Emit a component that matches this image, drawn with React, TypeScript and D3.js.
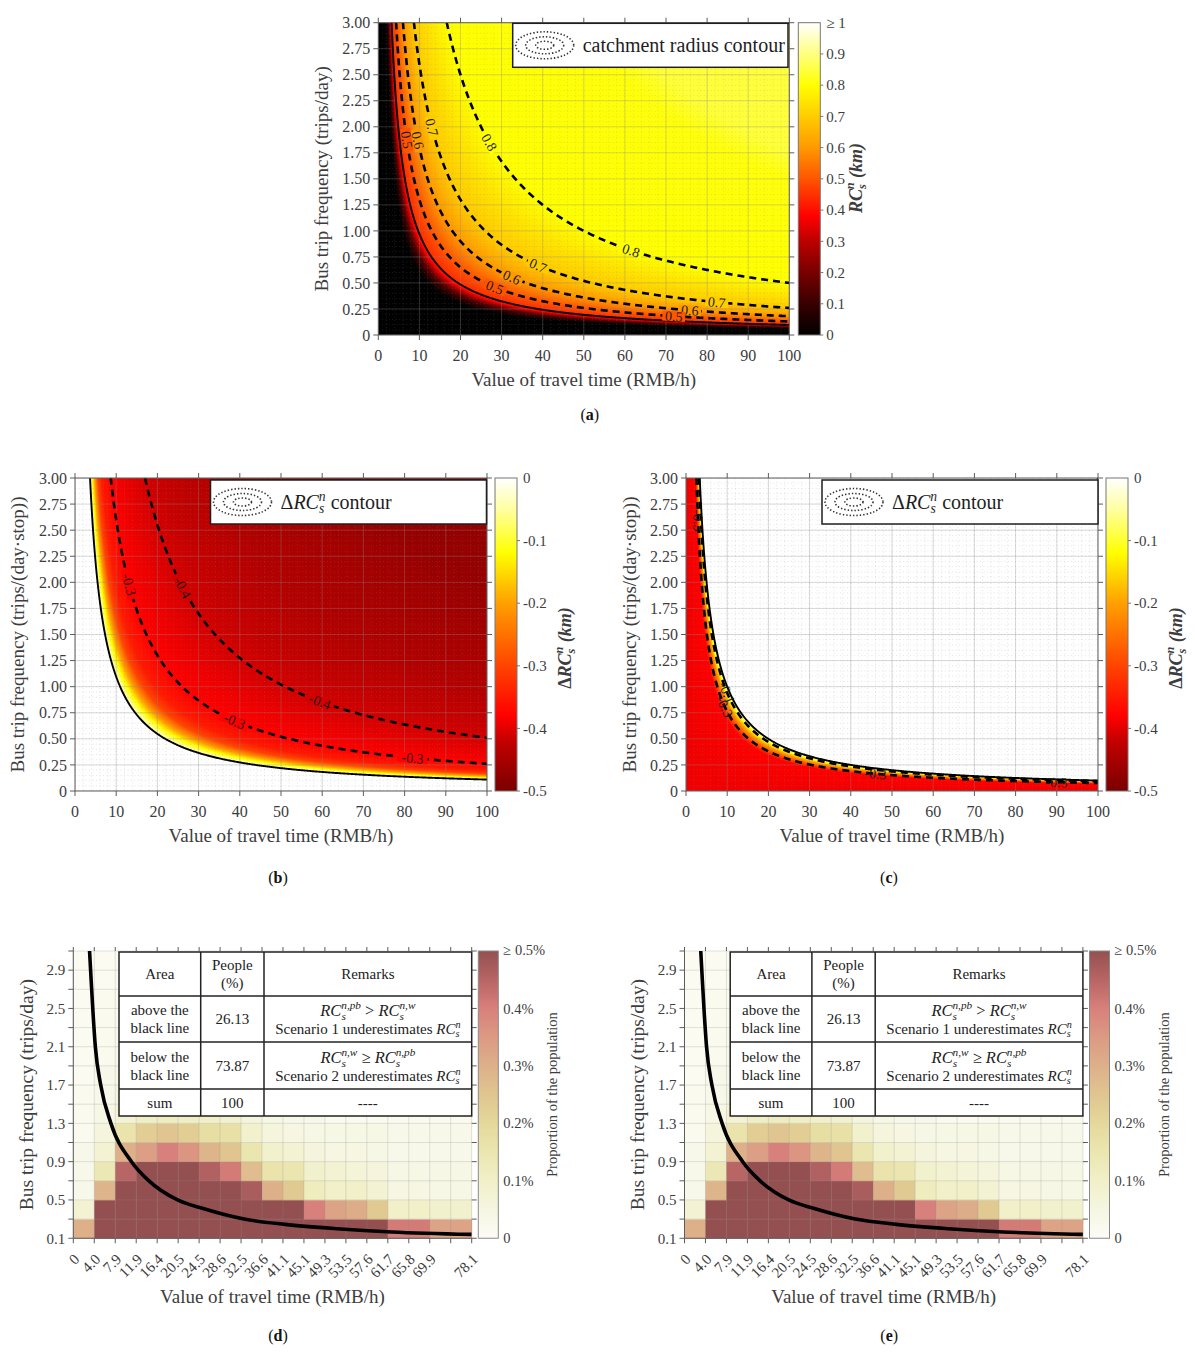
import React, { useMemo } from 'react';
import * as d3 from 'd3';

const SERIF = "'Liberation Serif', 'Times New Roman', Times, serif";
const INK = '#3d3d3d';
const AXIS = '#5c5c5c';

// ---- shared axes of panels a-c
const vottTicks = [0, 10, 20, 30, 40, 50, 60, 70, 80, 90, 100];
const freqTicks = [0, 0.25, 0.5, 0.75, 1, 1.25, 1.5, 1.75, 2, 2.25, 2.5, 2.75, 3];

// ---- (a) catchment radius, read along value-of-time x frequency
const productA = [0, 6.0, 7.6, 9.0, 9.7, 13, 18, 26, 50, 150, 175, 400];
const radiusA = [0, 0, 0.14, 0.36, 0.44, 0.5, 0.6, 0.7, 0.8, 0.81, 0.845, 0.855];
const levelsA = [0.5, 0.6, 0.7, 0.8];
const levelProductsA = [13, 18, 26, 50];
const boundaryProductA = 9.7;
const labelsA = [
  [0.8, 27.2, 1.86], [0.8, 61.6, 0.82], [0.7, 12.6, 1.99], [0.7, 38.9, 0.66], [0.7, 82.3, 0.3],
  [0.6, 8.5, 1.86], [0.6, 32, 0.51], [0.6, 75.8, 0.21], [0.5, 6.5, 1.87], [0.5, 28, 0.43], [0.5, 71.8, 0.18],
];
const hotStops = [0, 0.1, 0.2, 0.3, 0.38, 0.5, 0.6, 0.7, 0.8, 0.9, 1];
const hotColors = ['#000000', '#380000', '#780000', '#bb0000', '#ff0000', '#ff5500', '#ff9900', '#ffcc00', '#ffff00', '#ffff80', '#ffffff'];
const cbTicksA = [0, 0.1, 0.2, 0.3, 0.4, 0.5, 0.6, 0.7, 0.8, 0.9];

// ---- (b) and (c) change of catchment radius
const productB = [0, 10.95, 11.0, 12.3, 14.2, 16.5, 19.5, 26, 51, 100, 200, 400];
const deltaB = [0, 0, -0.03, -0.1, -0.2, -0.3, -0.35, -0.38, -0.41, -0.44, -0.47, -0.48];
const levelsB = [-0.3, -0.4];
const levelProductsB = [26, 51];
const boundaryProductB = 10.95;
const labelsB = [[-0.3, 12.2, 1.97], [-0.4, 26, 1.95], [-0.3, 38.6, 0.66], [-0.4, 59.5, 0.86], [-0.3, 82, 0.31]];
const productC = [0, 6.8, 7.6, 8.6, 9.4, 9.95, 10.0, 400];
const deltaC = [-0.39, -0.38, -0.3, -0.2, -0.1, -0.02, 0, 0];
const levelsC = [-0.1, -0.3];
const levelProductsC = [9.4, 7.6];
const boundaryProductC = 10;
const labelsC = [[-0.3, 3.1, 2.59], [-0.1, 8.8, 0.92], [-0.3, 8.0, 0.78], [-0.3, 46, 0.14], [-0.3, 89.8, 0.07]];
const deltaStops = [-0.5, -0.42, -0.38, -0.3, -0.2, -0.12, -0.05, 0];
const deltaColors = ['#7a0000', '#c40000', '#ff0000', '#ff4400', '#ffa000', '#ffff00', '#ffffa0', '#ffffff'];
const cbTicksB = [-0.5, -0.4, -0.3, -0.2, -0.1];

// ---- (d) and (e) population share (%) per cell
const vottEdges = [0, 4.0, 7.9, 11.9, 16.4, 20.5, 24.5, 28.6, 32.5, 36.6, 41.1, 45.1, 49.3, 53.5, 57.6, 61.7, 65.8, 69.9, 74.0, 78.1];
const unlabeledEdges = [74.0];
const freqEdges = [0.1, 0.3, 0.5, 0.7, 0.9, 1.1, 1.3, 1.5, 1.7, 1.9, 2.1, 2.3, 2.5, 2.7, 2.9, 3.1];
const freqLabels = [0.1, 0.5, 0.9, 1.3, 1.7, 2.1, 2.5, 2.9];
// rows from 0.1-0.3 upwards, columns follow vottEdges
const share = [
  [0.3, 0.6, 0.6, 0.6, 0.6, 0.6, 0.6, 0.6, 0.6, 0.6, 0.6, 0.6, 0.6, 0.6, 0.6, 0.41, 0.41, 0.33, 0.33],
  [0.08, 0.6, 0.6, 0.6, 0.6, 0.6, 0.6, 0.6, 0.6, 0.6, 0.6, 0.4, 0.33, 0.31, 0.24, 0.1, 0.1, 0.09, 0.09],
  [0.03, 0.29, 0.6, 0.6, 0.6, 0.6, 0.6, 0.6, 0.47, 0.3, 0.24, 0.12, 0.1, 0.1, 0.08, 0.05, 0.05, 0.04, 0.04],
  [0.03, 0.14, 0.45, 0.6, 0.6, 0.6, 0.46, 0.41, 0.27, 0.16, 0.15, 0.09, 0.08, 0.07, 0.06, 0.04, 0.04, 0.04, 0.04],
  [0.03, 0.08, 0.3, 0.34, 0.4, 0.36, 0.29, 0.25, 0.15, 0.09, 0.08, 0.06, 0.05, 0.05, 0.04, 0.03, 0.03, 0.03, 0.03],
  [0.02, 0.06, 0.16, 0.23, 0.25, 0.23, 0.18, 0.17, 0.09, 0.06, 0.05, 0.04, 0.04, 0.04, 0.04, 0.03, 0.03, 0.03, 0.03],
  [0.02, 0.04, 0.08, 0.11, 0.12, 0.11, 0.1, 0.09, 0.06, 0.04, 0.03, 0.03, 0.02, 0.02, 0.02, 0.02, 0.02, 0.02, 0.02],
  [0.02, 0.03, 0.06, 0.07, 0.07, 0.06, 0.05, 0.05, 0.04, 0.03, 0.02, 0.02, 0.02, 0.02, 0.02, 0.02, 0.02, 0.02, 0.02],
  [0.01, 0.03, 0.04, 0.05, 0.05, 0.04, 0.04, 0.03, 0.03, 0.02, 0.02, 0.02, 0.01, 0.01, 0.01, 0.01, 0.01, 0.01, 0.01],
  [0.01, 0.02, 0.03, 0.04, 0.04, 0.03, 0.03, 0.03, 0.02, 0.02, 0.01, 0.01, 0.01, 0.01, 0.01, 0.01, 0.01, 0.01, 0.01],
  [0.01, 0.02, 0.03, 0.03, 0.03, 0.03, 0.02, 0.02, 0.02, 0.01, 0.01, 0.01, 0.01, 0.01, 0.01, 0.01, 0.01, 0.01, 0.01],
  [0.01, 0.02, 0.02, 0.02, 0.02, 0.02, 0.02, 0.02, 0.01, 0.01, 0.01, 0.01, 0.01, 0.01, 0.01, 0.01, 0.01, 0.01, 0.01],
  [0.01, 0.02, 0.02, 0.02, 0.02, 0.02, 0.01, 0.01, 0.01, 0.01, 0.01, 0.01, 0.01, 0.01, 0.01, 0.01, 0.01, 0.01, 0.01],
  [0.01, 0.01, 0.02, 0.02, 0.01, 0.01, 0.01, 0.01, 0.01, 0.01, 0.01, 0.01, 0.01, 0.01, 0.01, 0.01, 0.01, 0.01, 0.01],
  [0.01, 0.01, 0.01, 0.01, 0.01, 0.01, 0.01, 0.01, 0.01, 0.01, 0.01, 0.01, 0.01, 0.01, 0.01, 0.01, 0.01, 0.01, 0.01],
];
const shareStops = [0, 0.05, 0.1, 0.15, 0.2, 0.25, 0.3, 0.35, 0.4, 0.45, 0.5];
const shareColors = ['#fcfcf6', '#f6f6e2', '#f1f0c8', '#ebe6b0', '#e5d89c', '#e0c590', '#ddb08a', '#dc9a83', '#d8807b', '#b86565', '#945050'];
const shareTicks = [0, 0.1, 0.2, 0.3, 0.4];
// black line (equal radius under both scenarios)
const curveVott = [3.1, 3.3, 3.7, 4.2, 5.2, 7.1, 11.0, 14.4, 20.4, 25.3, 33.1, 41.5, 51.7, 62.5, 78.1];
const curveFreq = [3.1, 2.9, 2.51, 2.1, 1.7, 1.3, 0.9, 0.71, 0.5, 0.41, 0.3, 0.245, 0.2, 0.166, 0.14];
// summary table
const tableAreas = [['above the', 'black line'], ['below the', 'black line'], ['sum']];
const tablePeople = ['26.13', '73.87', '100'];
const tableRelations = [['n,pb', '>', 'n,w'], ['n,w', '≥', 'n,pb']];
const tableNotes = ['Scenario 1 underestimates', 'Scenario 2 underestimates'];

// ---------------------------------------------------------------
const rc = (sup: string, fs: number, k: string) => [
  <tspan key={k + 'a'} fontStyle="italic">RC</tspan>,
  <tspan key={k + 'b'} fontStyle="italic" fontSize={fs * 0.68} baselineShift={-fs * 0.22}>s</tspan>,
  <tspan key={k + 'c'} fontStyle="italic" fontSize={fs * 0.68} dx={-fs * 0.27} baselineShift={fs * 0.42}>{sup}</tspan>,
];

function buildField(W: number, H: number, products: number[], vals: number[], stops: number[], colors: string[]) {
  const field = d3.scaleLinear().domain(products).range(vals).clamp(true);
  const cmap = d3.scaleLinear<string>().domain(stops).range(colors).interpolate(d3.interpolateRgb).clamp(true);
  const gx = d3.scaleLinear().domain([0, W]).range([0, 100]);
  const gy = d3.scaleLinear().domain([0, H]).range([3, 0]);
  const prod = new Float64Array(W * H);
  for (let j = 0; j < H; j++) {
    const fy = gy(j + 0.5);
    for (let i = 0; i < W; i++) prod[j * W + i] = gx(i + 0.5) * fy;
  }
  const lo = stops[0], hi = stops[stops.length - 1], N = 1024;
  const lut = d3.range(N).map((k) => d3.rgb(cmap(lo + ((hi - lo) * k) / (N - 1))));
  const canvas = document.createElement('canvas');
  canvas.width = W;
  canvas.height = H;
  const ctx = canvas.getContext('2d')!;
  const img = ctx.createImageData(W, H);
  for (let k = 0; k < W * H; k++) {
    const v = field(prod[k]);
    const t = Math.max(0, Math.min(N - 1, Math.round(((v - lo) / (hi - lo)) * (N - 1))));
    const c = lut[t];
    img.data[4 * k] = c.r;
    img.data[4 * k + 1] = c.g;
    img.data[4 * k + 2] = c.b;
    img.data[4 * k + 3] = 255;
  }
  ctx.putImageData(img, 0, 0);
  return { prod, field, cmap, href: canvas.toDataURL() };
}

// iso-lines from d3.contours, dropping the parts that run along the grid border
function isolines(values: Float64Array, W: number, H: number, t: number) {
  const mp: any = d3.contours().size([W, H]).thresholds([t])(values as any)[0];
  const out: number[][][] = [];
  const e = 1e-9;
  const onEdge = (a: number[], b: number[]) =>
    (Math.abs(a[0] - b[0]) < e && (a[0] <= e || a[0] >= W - e)) ||
    (Math.abs(a[1] - b[1]) < e && (a[1] <= e || a[1] >= H - e));
  for (const poly of mp.coordinates) {
    for (const ring of poly) {
      const runs: number[][][] = [];
      let run: number[][] = [];
      for (let k = 0; k < ring.length - 1; k++) {
        const a = ring[k], b = ring[k + 1];
        if (onEdge(a, b)) {
          if (run.length > 1) runs.push(run);
          run = [];
        } else {
          if (!run.length) run.push(a);
          run.push(b);
        }
      }
      if (run.length > 1) {
        if (runs.length && !onEdge(ring[0], ring[1])) runs[0] = run.concat(runs[0].slice(1));
        else runs.push(run);
      }
      out.push(...runs);
    }
  }
  return out;
}

type Box = { x: number; y: number; w: number; h: number };

interface FieldCfg {
  id: string;
  left: number; top: number; w: number; h: number;
  products: number[]; vals: number[]; stops: number[]; colors: string[];
  levels: number[]; levelProducts: number[]; boundaryProduct: number; labels: number[][]; labelGap: boolean;
  cbX: number; cbTicks: number[]; cbTop: string; cbTitle: React.ReactNode; cbTitleX: number; cbTitleY: number;
  yLabel: string; yLabelX: number;
  legend: Box; legendText: React.ReactNode;
}

function Legend({ box, children }: { box: Box; children: React.ReactNode }) {
  const cx = box.x + 32, cy = box.y + box.h / 2;
  return (
    <g>
      <rect x={box.x} y={box.y} width={box.w} height={box.h} fill="#fff" stroke="#1e1e1e" strokeWidth={1.5} />
      {[[29, 13.5], [19, 8.5], [9, 4]].map(([rx, ry], i) => (
        <ellipse key={i} cx={cx} cy={cy} rx={rx} ry={ry} fill="none" stroke="#333" strokeWidth={1.6} strokeDasharray="1.4 2" />
      ))}
      <text x={box.x + 70} y={cy + 7} fontSize={20} fill="#1e1e1e">{children}</text>
    </g>
  );
}

function Letter({ x, y, l }: { x: number; y: number; l: string }) {
  return (
    <text x={x} y={y} fontSize={16} textAnchor="middle" fill="#111">
      (<tspan fontWeight="bold">{l}</tspan>)
    </text>
  );
}

function FieldPanel(c: FieldCfg) {
  const W = Math.round(c.w), H = Math.round(c.h);
  const built = useMemo(() => {
    const f = buildField(W, H, c.products, c.vals, c.stops, c.colors);
    const dashed = c.levels.map((lv, i) => ({ lv, lines: isolines(f.prod, W, H, c.levelProducts[i]) }));
    const solid = isolines(f.prod, W, H, c.boundaryProduct);
    return { ...f, dashed, solid };
  }, []);
  const x = d3.scaleLinear().domain([0, 100]).range([c.left, c.left + c.w]);
  const y = d3.scaleLinear().domain([0, 3]).range([c.top + c.h, c.top]);
  const R = c.left + c.w, B = c.top + c.h;
  const toPx = (p: number[]) => [c.left + (p[0] * c.w) / W, c.top + (p[1] * c.h) / H];
  const path = (line: number[][]) => d3.line()(line.map(toPx) as [number, number][]) || '';
  const minorX = d3.range(0, 100.001, 2);
  const minorY = d3.range(0, 3.0001, 0.05);

  const labelMarks = c.labels.map(([lv, vx, vy], i) => {
    const set = built.dashed.find((d) => d.lv === lv);
    if (!set) return null;
    const tx = x(vx), ty = y(vy);
    let best: { line: number[][]; k: number } | null = null;
    let bd = Infinity;
    set.lines.forEach((line) => line.forEach((p, k) => {
      const q = toPx(p);
      const d = (q[0] - tx) ** 2 + (q[1] - ty) ** 2;
      if (d < bd) { bd = d; best = { line, k }; }
    }));
    if (!best) return null;
    const { line, k } = best as { line: number[][]; k: number };
    const a = toPx(line[Math.max(0, k - 3)]), b = toPx(line[Math.min(line.length - 1, k + 3)]);
    let ang = (Math.atan2(b[1] - a[1], b[0] - a[0]) * 180) / Math.PI;
    if (ang > 90) ang -= 180;
    if (ang < -90) ang += 180;
    const q = toPx(line[k]);
    const fx = x.invert(q[0]), fy = y.invert(q[1]);
    const bg = built.cmap(built.field(fx * fy));
    const txt = lv.toFixed(1);
    const tw = txt.length * 7;
    return (
      <g key={i} transform={`translate(${q[0]},${q[1]}) rotate(${ang})`}>
        {c.labelGap && <rect x={-tw / 2 - 1} y={-5} width={tw + 2} height={10} fill={bg} />}
        <text textAnchor="middle" dy="0.35em" fontSize={14} fill="#1c1c1c">{txt}</text>
      </g>
    );
  });

  const cbLo = c.stops[0], cbHi = c.stops[c.stops.length - 1];
  const cy = d3.scaleLinear().domain([cbLo, cbHi]).range([B, c.top]);
  return (
    <g>
      <defs>
        <clipPath id={`clip-${c.id}`}><rect x={c.left} y={c.top} width={c.w} height={c.h} /></clipPath>
        <linearGradient id={`grad-${c.id}`} x1="0" y1="1" x2="0" y2="0">
          {c.stops.map((s, i) => (
            <stop key={i} offset={(s - cbLo) / (cbHi - cbLo)} stopColor={c.colors[i]} />
          ))}
        </linearGradient>
      </defs>
      <image href={built.href} x={c.left} y={c.top} width={c.w} height={c.h} preserveAspectRatio="none" />
      <g clipPath={`url(#clip-${c.id})`}>
        {minorX.map((v, i) => (
          <line key={'mx' + i} x1={x(v)} x2={x(v)} y1={c.top} y2={B} stroke="#8a8a8a" strokeOpacity={0.28} strokeWidth={0.8} strokeDasharray="1 2.5" />
        ))}
        {minorY.map((v, i) => (
          <line key={'my' + i} x1={c.left} x2={R} y1={y(v)} y2={y(v)} stroke="#8a8a8a" strokeOpacity={0.28} strokeWidth={0.8} strokeDasharray="1 2.5" />
        ))}
        {vottTicks.map((v) => (
          <line key={'gx' + v} x1={x(v)} x2={x(v)} y1={c.top} y2={B} stroke="#8a8a8a" strokeOpacity={0.35} strokeWidth={0.9} />
        ))}
        {freqTicks.map((v) => (
          <line key={'gy' + v} x1={c.left} x2={R} y1={y(v)} y2={y(v)} stroke="#8a8a8a" strokeOpacity={0.35} strokeWidth={0.9} />
        ))}
        {built.dashed.map((d) => d.lines.map((line, i) => (
          <path key={d.lv + '-' + i} d={path(line)} fill="none" stroke="#000" strokeWidth={2.6} strokeDasharray="7 5" />
        )))}
        {built.solid.map((line, i) => (
          <path key={'s' + i} d={path(line)} fill="none" stroke="#000" strokeWidth={1.9} />
        ))}
        {labelMarks}
      </g>
      <rect x={c.left} y={c.top} width={c.w} height={c.h} fill="none" stroke={AXIS} strokeWidth={1} />
      <g stroke={AXIS} strokeWidth={1}>
        {vottTicks.map((v) => (
          <g key={'tx' + v}>
            <line x1={x(v)} x2={x(v)} y1={B} y2={B + 5} />
            <line x1={x(v)} x2={x(v)} y1={c.top} y2={c.top - 5} />
          </g>
        ))}
        {freqTicks.map((v) => (
          <g key={'ty' + v}>
            <line x1={c.left - 5} x2={c.left} y1={y(v)} y2={y(v)} />
            <line x1={R} x2={R + 5} y1={y(v)} y2={y(v)} />
          </g>
        ))}
      </g>
      <g fontSize={16} fill={INK}>
        {vottTicks.map((v) => (
          <text key={'lx' + v} x={x(v)} y={B + 26} textAnchor="middle">{v}</text>
        ))}
        {freqTicks.map((v) => (
          <text key={'ly' + v} x={c.left - 8} y={y(v)} dy="0.35em" textAnchor="end">{v === 0 ? '0' : v.toFixed(2)}</text>
        ))}
      </g>
      <text x={c.left + c.w / 2} y={B + 51} textAnchor="middle" fontSize={19} fill={INK}>Value of travel time (RMB/h)</text>
      <text transform={`translate(${c.yLabelX},${c.top + c.h / 2}) rotate(-90)`} textAnchor="middle" fontSize={19} fill={INK}>{c.yLabel}</text>
      <Legend box={c.legend}>{c.legendText}</Legend>
      <rect x={c.cbX} y={c.top} width={22} height={c.h} fill={`url(#grad-${c.id})`} stroke="#777" strokeWidth={1} />
      <g fontSize={15} fill={INK}>
        {c.cbTicks.map((v) => (
          <g key={'cb' + v}>
            <line x1={c.cbX + 22} x2={c.cbX + 25} y1={cy(v)} y2={cy(v)} stroke="#777" />
            <text x={c.cbX + 28} y={cy(v)} dy="0.35em">{v === 0 ? '0' : v.toFixed(1)}</text>
          </g>
        ))}
        <text x={c.cbX + 28} y={c.top} dy="0.35em">{c.cbTop}</text>
      </g>
      <text transform={`translate(${c.cbTitleX},${c.cbTitleY}) rotate(-90)`} textAnchor="middle" fontSize={18} fontWeight="bold" fill={INK}>{c.cbTitle}</text>
      <Letter x={c.left + c.w / 2 + (c.id === 'a' ? 6 : -3)} y={c.top + c.h + (c.id === 'a' ? 85 : 92)} l={c.id} />
    </g>
  );
}

function HeatPanel({ dx, letter }: { dx: number; letter: string }) {
  const L = 73.3 + dx, T = 951, W = 398.4, H = 287.25, B = T + H, R = L + W;
  const step = W / (vottEdges.length - 1);
  const x = d3.scaleLinear().domain(vottEdges).range(vottEdges.map((_, i) => L + i * step));
  const y = d3.scaleLinear().domain([freqEdges[0], freqEdges[freqEdges.length - 1]]).range([B, T]);
  const color = d3.scaleLinear<string>().domain(shareStops).range(shareColors).interpolate(d3.interpolateRgb).clamp(true);
  const curve = d3.line<number>().x((i) => x(curveVott[i])).y((i) => y(curveFreq[i])).curve(d3.curveMonotoneX);
  const cbX = 478.3 + dx, cbW = 20;
  const cy = d3.scaleLinear().domain([0, 0.5]).range([B, T]);
  const cols = [L + 45.7, L + 127.4, L + 190.7, R];
  const rows = [T + 1, T + 45, T + 91, T + 138, T + 165];
  const mid = (a: number, b: number) => (a + b) / 2;
  const gid = `share-${letter}`;
  return (
    <g>
      <defs>
        <clipPath id={`clip-${letter}`}><rect x={L} y={T} width={W} height={H} /></clipPath>
        <linearGradient id={gid} x1="0" y1="1" x2="0" y2="0">
          {shareStops.map((s, i) => (
            <stop key={i} offset={s / 0.5} stopColor={shareColors[i]} />
          ))}
        </linearGradient>
      </defs>
      {share.map((row, r) => row.map((v, k) => (
        <rect key={r + '-' + k} x={x(vottEdges[k])} y={y(freqEdges[r + 1])}
          width={x(vottEdges[k + 1]) - x(vottEdges[k]) + 0.4} height={y(freqEdges[r]) - y(freqEdges[r + 1]) + 0.4}
          fill={color(v)} />
      )))}
      <g stroke="#8c8c8c" strokeOpacity={0.3} strokeWidth={0.8}>
        {vottEdges.map((v) => <line key={'gx' + v} x1={x(v)} x2={x(v)} y1={T} y2={B} />)}
        {freqEdges.map((v) => <line key={'gy' + v} x1={L} x2={R} y1={y(v)} y2={y(v)} />)}
      </g>
      <path d={curve(d3.range(curveVott.length)) || ''} fill="none" stroke="#000" strokeWidth={3.6} clipPath={`url(#clip-${letter})`} />
      <g stroke={AXIS} strokeWidth={1}>
        <line x1={L} x2={L} y1={T} y2={B} />
        <line x1={L} x2={R} y1={B} y2={B} />
        {vottEdges.map((v) => (
          <g key={'t' + v}>
            <line x1={x(v)} x2={x(v)} y1={B} y2={B + 5} />
            <line x1={x(v)} x2={x(v)} y1={T} y2={T - 4} />
          </g>
        ))}
        {freqEdges.map((v) => (
          <g key={'f' + v}>
            <line x1={L - 5} x2={L} y1={y(v)} y2={y(v)} />
            <line x1={R} x2={R + 5} y1={y(v)} y2={y(v)} />
          </g>
        ))}
      </g>
      <g fontSize={15} fill={INK}>
        {freqLabels.map((v) => (
          <text key={'yl' + v} x={L - 8} y={y(v)} dy="0.35em" textAnchor="end">{v.toFixed(1)}</text>
        ))}
        {vottEdges.filter((v) => !unlabeledEdges.includes(v)).map((v) => (
          <text key={'xl' + v} transform={`translate(${x(v) + 7},${B + 22}) rotate(-45)`} textAnchor="end">{v === 0 ? '0' : v.toFixed(1)}</text>
        ))}
      </g>
      <text x={mid(L, R)} y={B + 65} textAnchor="middle" fontSize={19} fill={INK}>Value of travel time (RMB/h)</text>
      <text transform={`translate(${33 + dx},${mid(T, B)}) rotate(-90)`} textAnchor="middle" fontSize={19.5} fill={INK}>Bus trip frequency (trips/day)</text>
      {/* summary table */}
      <g>
        <rect x={cols[0]} y={rows[0]} width={cols[3] - cols[0]} height={rows[4] - rows[0]} fill="#fff" stroke="#222" strokeWidth={1.5} />
        {cols.slice(1, 3).map((cx) => <line key={'c' + cx} x1={cx} x2={cx} y1={rows[0]} y2={rows[4]} stroke="#222" strokeWidth={1.5} />)}
        {rows.slice(1, 4).map((ry) => <line key={'r' + ry} x1={cols[0]} x2={cols[3]} y1={ry} y2={ry} stroke="#222" strokeWidth={1.5} />)}
        <g fontSize={15} fill="#222" textAnchor="middle">
          <text x={mid(cols[0], cols[1])} y={mid(rows[0], rows[1]) + 5}>Area</text>
          <text x={mid(cols[1], cols[2])} y={mid(rows[0], rows[1]) - 4}>People</text>
          <text x={mid(cols[1], cols[2])} y={mid(rows[0], rows[1]) + 14}>(%)</text>
          <text x={mid(cols[2], cols[3])} y={mid(rows[0], rows[1]) + 5}>Remarks</text>
          {tableAreas.map((lines, i) => (
            <g key={'a' + i}>
              {lines.map((t, j) => (
                <text key={j} x={mid(cols[0], cols[1])} y={mid(rows[i + 1], rows[i + 2]) + 5 + (lines.length > 1 ? (j - 0.5) * 18 : 0)}>{t}</text>
              ))}
              <text x={mid(cols[1], cols[2])} y={mid(rows[i + 1], rows[i + 2]) + 5}>{tablePeople[i]}</text>
            </g>
          ))}
          {tableRelations.map(([a, op, b], i) => (
            <text key={'m' + i} x={mid(cols[2], cols[3])} y={mid(rows[i + 1], rows[i + 2]) - 3} fontSize={16.5}>
              {rc(a, 16.5, 'l' + i)}
              <tspan>{` ${op} `}</tspan>
              {rc(b, 16.5, 'r' + i)}
            </text>
          ))}
          {tableNotes.map((t, i) => (
            <text key={'n' + i} x={mid(cols[2], cols[3])} y={mid(rows[i + 1], rows[i + 2]) + 15}>
              {t + ' '}
              {rc('n', 15, 'n' + i)}
            </text>
          ))}
          <text x={mid(cols[2], cols[3])} y={mid(rows[3], rows[4]) + 5}>----</text>
        </g>
      </g>
      {/* colour bar */}
      <rect x={cbX} y={T} width={cbW} height={H} fill={`url(#${gid})`} stroke="#8a8a8a" strokeWidth={1} />
      <g fontSize={14.5} fill={INK}>
        {shareTicks.map((v) => (
          <text key={'s' + v} x={cbX + cbW + 5} y={cy(v)} dy="0.35em">{v === 0 ? '0' : `${v.toFixed(1)}%`}</text>
        ))}
        <text x={cbX + cbW + 5} y={T} dy="0.3em">≥ 0.5%</text>
      </g>
      <text transform={`translate(${cbX + 79},${mid(T, B)}) rotate(-90)`} textAnchor="middle" fontSize={14.5} fill={INK}>Proportion of the population</text>
      <Letter x={278 + dx} y={1341} l={letter} />
    </g>
  );
}

const deltaTitle = [<tspan key="d">Δ</tspan>, ...rc('n', 18, 't'), <tspan key="k" fontStyle="italic"> (km)</tspan>];
const deltaLegend = [<tspan key="d">Δ</tspan>, ...rc('n', 20, 'g'), <tspan key="c"> contour</tspan>];

export default function App() {
  const cfgA: FieldCfg = {
    id: 'a', left: 378.3, top: 22.7, w: 411, h: 312.3,
    products: productA, vals: radiusA, stops: hotStops, colors: hotColors,
    levels: levelsA, levelProducts: levelProductsA, boundaryProduct: boundaryProductA, labels: labelsA, labelGap: true,
    cbX: 798.3, cbTicks: cbTicksA, cbTop: '≥ 1', cbTitle: [...rc('n', 18, 'ta'), <tspan key="k" fontStyle="italic"> (km)</tspan>], cbTitleX: 862, cbTitleY: 178,
    yLabel: 'Bus trip frequency (trips/day)', yLabelX: 328,
    legend: { x: 512.7, y: 23.3, w: 275.3, h: 44 }, legendText: 'catchment radius contour',
  };
  const cfgB: FieldCfg = {
    id: 'b', left: 75, top: 478, w: 412, h: 313,
    products: productB, vals: deltaB, stops: deltaStops, colors: deltaColors,
    levels: levelsB, levelProducts: levelProductsB, boundaryProduct: boundaryProductB, labels: labelsB, labelGap: true,
    cbX: 495, cbTicks: cbTicksB, cbTop: '0', cbTitle: deltaTitle, cbTitleX: 571, cbTitleY: 648,
    yLabel: 'Bus trip frequency (trips/(day·stop))', yLabelX: 24,
    legend: { x: 210.5, y: 480, w: 276, h: 44 }, legendText: deltaLegend,
  };
  const cfgC: FieldCfg = {
    ...cfgB, id: 'c', left: 686, products: productC, vals: deltaC,
    levels: levelsC, levelProducts: levelProductsC, boundaryProduct: boundaryProductC, labels: labelsC, labelGap: false,
    cbX: 1106, cbTitleX: 1182, yLabelX: 636,
    legend: { x: 822, y: 480, w: 276, h: 44 },
  };
  return (
    <div style={{ position: 'absolute', left: 0, top: 0, background: '#fff' }}>
      <svg width={1195} height={1358} viewBox="0 0 1195 1358" style={{ display: 'block', fontFamily: SERIF }}>
        <rect width={1195} height={1358} fill="#fff" />
        <FieldPanel {...cfgA} />
        <FieldPanel {...cfgB} />
        <FieldPanel {...cfgC} />
        <HeatPanel dx={0} letter="d" />
        <HeatPanel dx={611.2} letter="e" />
      </svg>
    </div>
  );
}
